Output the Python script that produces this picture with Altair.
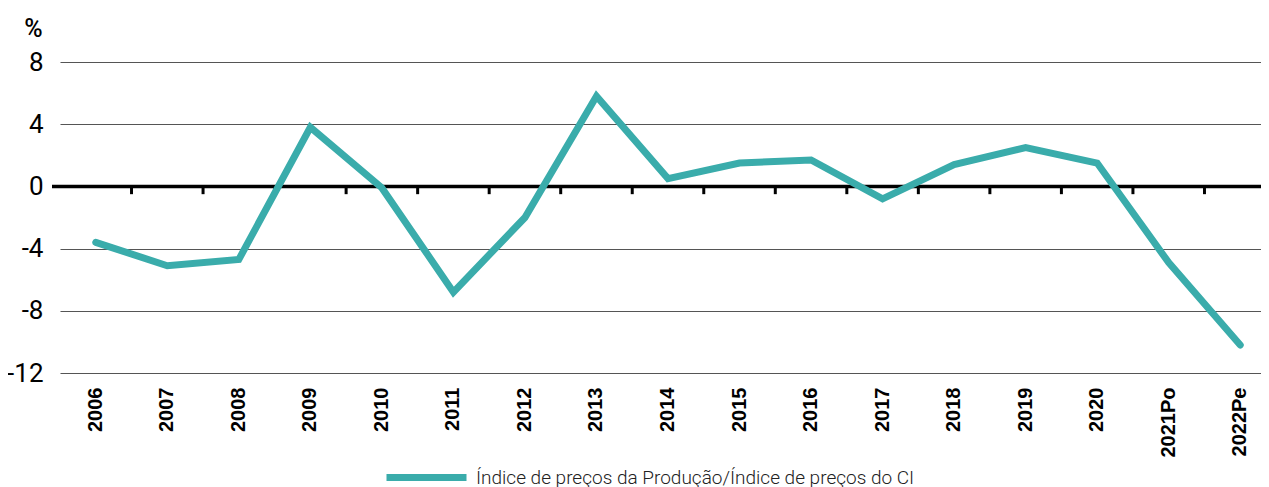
import altair as alt
import pandas as pd

categories = ["2006", "2007", "2008", "2009", "2010", "2011", "2012", "2013", "2014",
              "2015", "2016", "2017", "2018", "2019", "2020", "2021Po", "2022Pe"]
values = [-3.6, -5.1, -4.7, 3.8, -0.1, -6.8, -2.0, 5.8, 0.5,
          1.5, 1.7, -0.8, 1.4, 2.5, 1.5, -4.9, -10.2]
series_name = "Índice de preços da Produção/Índice de preços do CI"
y_ticks = [-12, -8, -4, 0, 4, 8]

df = pd.DataFrame({"ano": categories, "valor": values, "serie": series_name})
ticks_df = pd.DataFrame({"ano": categories[1:]})

TEAL = "#3AACAB"

xscale = alt.Scale(domain=categories, range=[8, 1224], paddingInner=0, paddingOuter=0)
yscale = alt.Scale(domain=[-12, 8], nice=False, zero=False)

line = alt.Chart(df).mark_line(strokeWidth=7, strokeCap="round", strokeJoin="miter").encode(
    x=alt.X("ano:N", scale=xscale, sort=categories, title=None,
            axis=alt.Axis(labelAngle=-90, labelAlign="right", labelBaseline="middle",
                          labelFont="Liberation Sans", labelFontWeight="bold",
                          labelFontSize=20, labelColor="#000", labelPadding=14,
                          ticks=False, domain=False, grid=False)),
    y=alt.Y("valor:Q", scale=yscale, title="%",
            axis=alt.Axis(values=y_ticks, labelExpr="toString(datum.value)",
                          labelFont="Roboto", labelFontSize=26, labelFontWeight=400,
                          labelColor="#000", labelPadding=9, ticks=False, domain=False,
                          grid=True, gridColor="#555", gridWidth=1.2,
                          titleAngle=0, titleX=-19, titleY=-34, titleAlign="center",
                          titleBaseline="middle", titleFont="Roboto", titleFontSize=25,
                          titleFontWeight=500, titleColor="#000")),
    color=alt.Color("serie:N", scale=alt.Scale(range=[TEAL]),
                    legend=alt.Legend(title=None, orient="none", legendX=331, legendY=372,
                                      symbolType="stroke", symbolSize=6400,
                                      symbolStrokeWidth=7, symbolStrokeColor=TEAL,
                                      labelFont="Roboto", labelFontSize=19,
                                      labelFontWeight=300, labelColor="#222",
                                      labelOffset=6, labelLimit=0, padding=0)),
)

zero = alt.Chart(pd.DataFrame({"v": [0]})).mark_rule(color="#000", strokeWidth=3.5).encode(
    y=alt.Y("v:Q", scale=yscale)
)

ticks = alt.Chart(ticks_df).mark_rule(color="#000", strokeWidth=3).encode(
    x=alt.X("ano:N", scale=xscale, sort=categories, bandPosition=0),
    y=alt.datum(0),
    y2=alt.datum(-0.5),
)

chart = alt.layer(zero, ticks, line).properties(
    width=1209, height=311,
    padding={"left": 44, "top": 54, "right": 0, "bottom": 114},
    autosize=alt.AutoSizeParams(type="none"),
).configure_view(stroke=None)

chart.save("out.html", embed_options={"renderer": "svg", "actions": False})
